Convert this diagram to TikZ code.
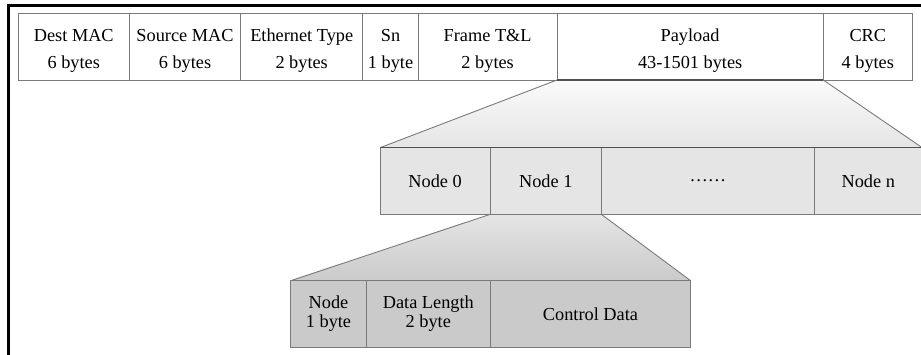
\documentclass[tikz,border=0pt]{standalone}
\usepackage{fontspec}
\setmainfont{Liberation Serif}
\usetikzlibrary{backgrounds}

\definecolor{edge}{HTML}{7A7A7A}
\definecolor{rim}{HTML}{505050}
\definecolor{fanhi}{HTML}{FAFAFA}
\definecolor{midfill}{HTML}{E5E5E5}
\definecolor{lowfill}{HTML}{CACACA}

% raises the first line of the two-line header cells
\newcommand\hdstrut{\rule{0pt}{20.6pt}}

\tikzset{
  cell/.style={draw=edge, line width=0.9pt, anchor=north west, inner sep=0pt,
    outer sep=0pt, align=center, font=\fontsize{18.3}{26.7}\selectfont},
  topcell/.style={cell, fill=white, minimum height=66.7pt},
  midcell/.style={cell, fill=midfill, minimum height=66.6pt},
  lowcell/.style={cell, fill=lowfill, minimum height=66.6pt,
    font=\fontsize{18.3}{19}\selectfont},
  fan/.style={draw=edge, line width=0.9pt},
  rimline/.style={draw=rim, line width=1.2pt},
  frameline/.style={draw=black, line width=3pt},
}

\begin{document}
\begin{tikzpicture}[x=1pt, y=-1pt]
  \useasboundingbox (0,0) rectangle (921,354);
  \clip (0,0) rectangle (921,354);

  % outer frame
  \coordinate (fbl) at (8.8,360);
  \coordinate (ftl) at (8.8,5.5);
  \coordinate (ftr) at (930,5.5);
  \draw[frameline] (fbl) -- (ftl) -- (ftr);

  % Ethernet frame
  \node[topcell, minimum width=111pt]   (dmac) at (18.3,13.3) {\hdstrut Dest MAC\\6 bytes};
  \node[topcell, minimum width=111.4pt] (smac) at (dmac.north east) {\hdstrut Source MAC\\6 bytes};
  \node[topcell, minimum width=122pt]   (etyp) at (smac.north east) {\hdstrut Ethernet Type\\2 bytes};
  \node[topcell, minimum width=55.6pt]  (sn)   at (etyp.north east) {\hdstrut Sn\\1 byte};
  \node[topcell, minimum width=138.7pt] (ftl)  at (sn.north east)   {\hdstrut Frame T\&L\\2 bytes};
  \node[topcell, minimum width=266.3pt] (pay)  at (ftl.north east)  {\hdstrut Payload\\43-1501 bytes};
  \node[topcell, minimum width=89pt]    (crc)  at (pay.north east)  {\hdstrut CRC\\4 bytes};

  % payload: one block per node
  \node[midcell, minimum width=110.3pt] (n0) at (380,147.7) {Node 0};
  \node[midcell, minimum width=111pt]   (n1) at (n0.north east) {Node 1};
  \node[midcell, minimum width=213pt]   (nd) at (n1.north east) {……};
  \node[midcell, minimum width=108pt]   (nn) at (nd.north east) {Node n};

  % one node block
  \node[lowcell, minimum width=75.6pt]  (bid)  at (290.7,280.7) {Node\\1 byte};
  \node[lowcell, minimum width=124pt]   (blen) at (bid.north east)  {Data Length\\2 byte};
  \node[lowcell, minimum width=200.4pt] (bdat) at (blen.north east) {Control Data};

  % expansion fans
  \begin{pgfonlayer}{background}
    \shade[top color=fanhi, bottom color=midfill]
      (pay.south west) -- (pay.south east) -- (nn.north east) -- (n0.north west) -- cycle;
    \shade[top color=midfill, bottom color=lowfill]
      (n1.south west) -- (n1.south east) -- (bdat.north east) -- (bid.north west) -- cycle;
  \end{pgfonlayer}
  \draw[fan] (pay.south west) -- (n0.north west);
  \draw[fan] (pay.south east) -- (nn.north east);
  \draw[fan] (n1.south west) -- (bid.north west);
  \draw[fan] (n1.south east) -- (bdat.north east);
  \draw[rimline] (pay.south west) -- (pay.south east);
  \draw[rimline] (n0.north west) -- (nn.north east);
\end{tikzpicture}
\end{document}
